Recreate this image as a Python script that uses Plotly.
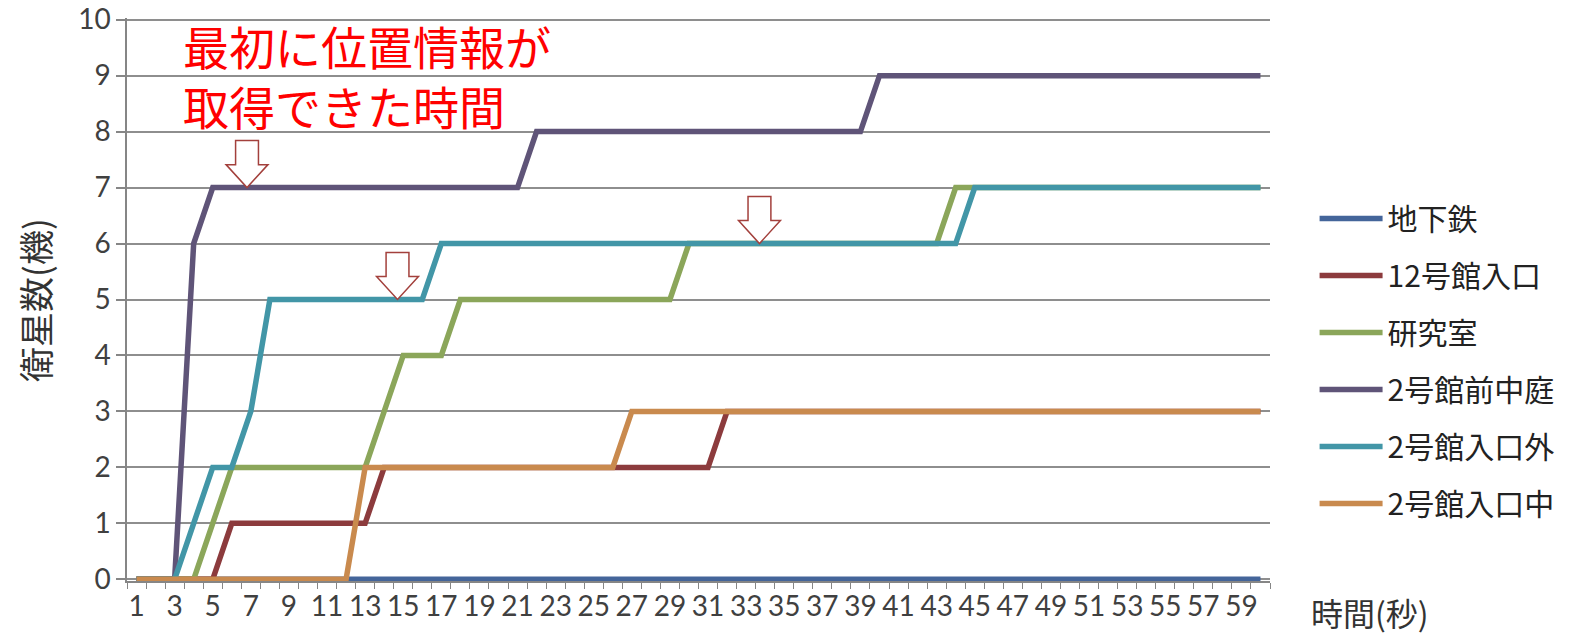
import plotly.graph_objects as go

seconds = list(range(1, 61))
tick_labels = [str(v) for v in range(1, 60, 2)]

series_names = ["地下鉄", "12号館入口", "研究室", "2号館前中庭", "2号館入口外", "2号館入口中"]

chikatetsu = [0, 0, 0, 0, 0, 0, 0, 0, 0, 0, 0, 0, 0, 0, 0, 0, 0, 0, 0, 0,
              0, 0, 0, 0, 0, 0, 0, 0, 0, 0, 0, 0, 0, 0, 0, 0, 0, 0, 0, 0,
              0, 0, 0, 0, 0, 0, 0, 0, 0, 0, 0, 0, 0, 0, 0, 0, 0, 0, 0, 0]
kan12_iriguchi = [0, 0, 0, 0, 0, 1, 1, 1, 1, 1, 1, 1, 1, 2, 2, 2, 2, 2, 2, 2,
                  2, 2, 2, 2, 2, 2, 2, 2, 2, 2, 2, 3, 3, 3, 3, 3, 3, 3, 3, 3,
                  3, 3, 3, 3, 3, 3, 3, 3, 3, 3, 3, 3, 3, 3, 3, 3, 3, 3, 3, 3]
kenkyushitsu = [0, 0, 0, 0, 1, 2, 2, 2, 2, 2, 2, 2, 2, 3, 4, 4, 4, 5, 5, 5,
                5, 5, 5, 5, 5, 5, 5, 5, 5, 6, 6, 6, 6, 6, 6, 6, 6, 6, 6, 6,
                6, 6, 6, 7, 7, 7, 7, 7, 7, 7, 7, 7, 7, 7, 7, 7, 7, 7, 7, 7]
kan2_nakaniwa = [0, 0, 0, 6, 7, 7, 7, 7, 7, 7, 7, 7, 7, 7, 7, 7, 7, 7, 7, 7,
                 7, 8, 8, 8, 8, 8, 8, 8, 8, 8, 8, 8, 8, 8, 8, 8, 8, 8, 8, 9,
                 9, 9, 9, 9, 9, 9, 9, 9, 9, 9, 9, 9, 9, 9, 9, 9, 9, 9, 9, 9]
kan2_soto = [0, 0, 0, 1, 2, 2, 3, 5, 5, 5, 5, 5, 5, 5, 5, 5, 6, 6, 6, 6,
             6, 6, 6, 6, 6, 6, 6, 6, 6, 6, 6, 6, 6, 6, 6, 6, 6, 6, 6, 6,
             6, 6, 6, 6, 7, 7, 7, 7, 7, 7, 7, 7, 7, 7, 7, 7, 7, 7, 7, 7]
kan2_naka = [0, 0, 0, 0, 0, 0, 0, 0, 0, 0, 0, 0, 2, 2, 2, 2, 2, 2, 2, 2,
             2, 2, 2, 2, 2, 2, 3, 3, 3, 3, 3, 3, 3, 3, 3, 3, 3, 3, 3, 3,
             3, 3, 3, 3, 3, 3, 3, 3, 3, 3, 3, 3, 3, 3, 3, 3, 3, 3, 3, 3]

series_values = [chikatetsu, kan12_iriguchi, kenkyushitsu, kan2_nakaniwa, kan2_soto, kan2_naka]
series_colors = ["#44659a", "#8c3b3d", "#8ba65a", "#5f5478", "#4296a7", "#c98a4e"]

# hollow arrow markers: (second, satellites) where each tip points
arrow_tips = [(6.8, 7), (14.7, 5), (33.7, 6)]

FONT = "Noto Sans CJK JP"
NUM_FONT = "Lato"
fig = go.Figure()
for name, vals, col in zip(series_names, series_values, series_colors):
    fig.add_trace(go.Scatter(
        x=seconds, y=vals, name=name, mode="lines",
        line=dict(color=col, width=5.5),
        legendgroup=name,
    ))

shapes = []
hw_head, hw_shaft, h_head, h_total = 1.1, 0.6, 0.41, 0.84
for (ax, ay) in arrow_tips:
    pts = [(ax - hw_shaft, ay + h_total), (ax + hw_shaft, ay + h_total),
           (ax + hw_shaft, ay + h_head), (ax + hw_head, ay + h_head),
           (ax, ay), (ax - hw_head, ay + h_head), (ax - hw_shaft, ay + h_head)]
    path = "M " + " L ".join(f"{px},{py}" for px, py in pts) + " Z"
    shapes.append(dict(type="path", path=path, xref="x", yref="y",
                       line=dict(color="#a3403c", width=1.5), fillcolor="white", layer="above"))

annotations = [
    dict(text="最初に位置情報が<br>取得できた時間", x=0.047, y=0.899, xref="paper", yref="paper",
         xanchor="left", yanchor="middle", align="left", showarrow=False,
         font=dict(family=FONT, size=46, color="#ff0000")),
    dict(text="時間(秒)", x=1.034, y=-0.055, xref="paper", yref="paper",
         xanchor="left", yanchor="middle", showarrow=False,
         font=dict(family=FONT, size=32, color="#333333")),
    dict(text="衛星数(機)", x=-0.081, y=0.5, xref="paper", yref="paper",
         xanchor="center", yanchor="middle", showarrow=False, textangle=-90,
         font=dict(family=FONT, size=35, color="#333333")),
]

fig.update_layout(
    width=1570, height=638,
    margin=dict(l=127, r=300, t=18, b=57, autoexpand=False),
    paper_bgcolor="white", plot_bgcolor="white",
    font=dict(family=FONT, color="#333333"),
    shapes=shapes, annotations=annotations,
    showlegend=True,
    legend=dict(x=1.039, y=0.69, xanchor="left", yanchor="top",
                font=dict(family=FONT, size=30, color="#222222"),
                tracegroupgap=15, itemwidth=63, bgcolor="rgba(0,0,0,0)"),
    xaxis=dict(range=[0.5, 60.5], tickmode="array", tickvals=list(range(1, 60, 2)),
               ticktext=tick_labels, tickangle=0, ticks="", showgrid=False,
               showline=True, linecolor="#868686", linewidth=1.5,
               tickfont=dict(family=NUM_FONT, size=28, color="#404040"),
               ticklabeloverflow="allow",
               minor=dict(tickmode="linear", tick0=0.5, dtick=1, ticks="outside",
                          ticklen=6, tickcolor="#868686", tickwidth=1, showgrid=False),
               zeroline=False, fixedrange=True, automargin=False),
    yaxis=dict(range=[-0.03, 10.03], tickmode="array", tickvals=list(range(0, 11)),
               ticks="outside", ticklen=9, tickcolor="#868686", tickwidth=1.5,
               showgrid=True, gridcolor="#8e8e8e", gridwidth=1.5,
               showline=True, linecolor="#868686", linewidth=1.5,
               tickfont=dict(family=NUM_FONT, size=28, color="#404040"),
               ticklabeloverflow="allow",
               zeroline=False, fixedrange=True, automargin=False),
)

fig.write_html("out.html")
